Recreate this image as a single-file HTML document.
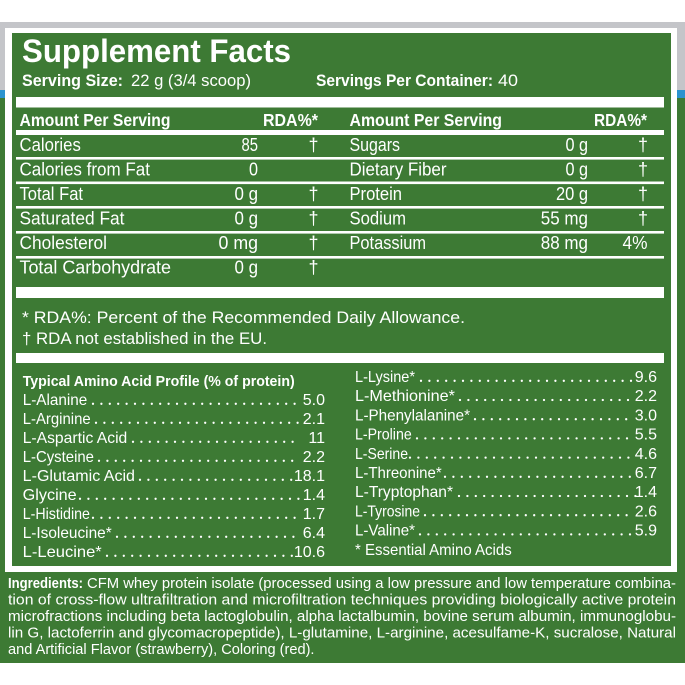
<!DOCTYPE html>
<html><head><meta charset="utf-8"><style>
html,body{margin:0;padding:0;background:#fff;}
svg{display:block;}
text{font-family:"Liberation Sans",sans-serif;fill:#fff;}
.b{font-weight:bold;}
</style></head><body>
<svg width="685" height="685" viewBox="0 0 685 685" xmlns="http://www.w3.org/2000/svg">
<rect x="0" y="0" width="685" height="685" fill="#ffffff"/>
<rect x="0" y="22" width="685" height="68" fill="#c4c5c9"/>
<rect x="0" y="90" width="685" height="8" fill="#2b93cf"/>
<rect x="0" y="98" width="685" height="565" fill="#3d7a34"/>
<rect x="5" y="28" width="672" height="544" fill="#ffffff"/>
<rect x="12" y="33" width="659" height="533" fill="#3d7a34"/>

<!-- bars -->
<rect x="16" y="97" width="648" height="10.5" fill="#fff"/>
<rect x="16" y="130" width="648" height="5" fill="#fff"/>
<rect x="16" y="157" width="648" height="2.6" fill="#fff"/>
<rect x="16" y="181.5" width="648" height="2.6" fill="#fff"/>
<rect x="16" y="206" width="648" height="2.6" fill="#fff"/>
<rect x="16" y="231" width="648" height="2.6" fill="#fff"/>
<rect x="16" y="256" width="648" height="2.6" fill="#fff"/>
<rect x="16" y="287" width="648" height="11" fill="#fff"/>
<rect x="16" y="353" width="648" height="10" fill="#fff"/>

<!-- title -->
<text x="22" y="62" class="b" font-size="32" textLength="269" lengthAdjust="spacingAndGlyphs">Supplement Facts</text>
<text x="22" y="86" class="b" font-size="17" textLength="101" lengthAdjust="spacingAndGlyphs">Serving Size:</text>
<text x="131" y="86" font-size="17" textLength="120" lengthAdjust="spacingAndGlyphs">22 g (3/4 scoop)</text>
<text x="316" y="86" class="b" font-size="17" textLength="177" lengthAdjust="spacingAndGlyphs">Servings Per Container:</text>
<text x="498" y="86" font-size="17" textLength="20" lengthAdjust="spacingAndGlyphs">40</text>

<!-- headers -->
<text x="19.5" y="126" class="b" font-size="17.5" textLength="151" lengthAdjust="spacingAndGlyphs">Amount Per Serving</text>
<text x="263" y="126" class="b" font-size="17.5" textLength="55" lengthAdjust="spacingAndGlyphs">RDA%*</text>
<text x="349.5" y="126" class="b" font-size="17.5" textLength="152.5" lengthAdjust="spacingAndGlyphs">Amount Per Serving</text>
<text x="594" y="126" class="b" font-size="17.5" textLength="53" lengthAdjust="spacingAndGlyphs">RDA%*</text>

<!-- left rows -->
<g font-size="18">
<text x="19.5" y="151" textLength="61.3" lengthAdjust="spacingAndGlyphs">Calories</text>
<text x="19.5" y="175.5" textLength="130.5" lengthAdjust="spacingAndGlyphs">Calories from Fat</text>
<text x="19.5" y="200" textLength="63.5" lengthAdjust="spacingAndGlyphs">Total Fat</text>
<text x="19.5" y="224.5" textLength="105" lengthAdjust="spacingAndGlyphs">Saturated Fat</text>
<text x="19.5" y="249" textLength="87.5" lengthAdjust="spacingAndGlyphs">Cholesterol</text>
<text x="19.5" y="273.5" textLength="151.5" lengthAdjust="spacingAndGlyphs">Total Carbohydrate</text>
</g>
<g font-size="18" text-anchor="end">
<text x="258" y="151" textLength="16.5" lengthAdjust="spacingAndGlyphs">85</text>
<text x="258" y="175.5" textLength="9" lengthAdjust="spacingAndGlyphs">0</text>
<text x="258" y="200" textLength="23.5" lengthAdjust="spacingAndGlyphs">0 g</text>
<text x="258" y="224.5" textLength="23.5" lengthAdjust="spacingAndGlyphs">0 g</text>
<text x="258" y="249" textLength="39.5" lengthAdjust="spacingAndGlyphs">0 mg</text>
<text x="258" y="273.5" textLength="23.5" lengthAdjust="spacingAndGlyphs">0 g</text>
</g>
<g font-size="18" text-anchor="middle">
<text x="313.5" y="151">†</text>
<text x="313.5" y="200">†</text>
<text x="313.5" y="224.5">†</text>
<text x="313.5" y="249">†</text>
<text x="313.5" y="273.5">†</text>
</g>

<!-- right rows -->
<g font-size="18">
<text x="349.5" y="151" textLength="50.5" lengthAdjust="spacingAndGlyphs">Sugars</text>
<text x="349.5" y="175.5" textLength="97" lengthAdjust="spacingAndGlyphs">Dietary Fiber</text>
<text x="349.5" y="200" textLength="52.5" lengthAdjust="spacingAndGlyphs">Protein</text>
<text x="349.5" y="224.5" textLength="56.5" lengthAdjust="spacingAndGlyphs">Sodium</text>
<text x="349.5" y="249" textLength="76.5" lengthAdjust="spacingAndGlyphs">Potassium</text>
</g>
<g font-size="18" text-anchor="end">
<text x="588" y="151" textLength="22.5" lengthAdjust="spacingAndGlyphs">0 g</text>
<text x="588" y="175.5" textLength="22.5" lengthAdjust="spacingAndGlyphs">0 g</text>
<text x="588" y="200" textLength="32" lengthAdjust="spacingAndGlyphs">20 g</text>
<text x="588" y="224.5" textLength="47.2" lengthAdjust="spacingAndGlyphs">55 mg</text>
<text x="588" y="249" textLength="47.2" lengthAdjust="spacingAndGlyphs">88 mg</text>
<text x="647.5" y="249" textLength="25" lengthAdjust="spacingAndGlyphs">4%</text>
</g>
<g font-size="18" text-anchor="middle">
<text x="643" y="151">†</text>
<text x="643" y="175.5">†</text>
<text x="643" y="200">†</text>
<text x="643" y="224.5">†</text>
</g>

<!-- footnotes -->
<text x="22" y="323" font-size="16.5" textLength="443" lengthAdjust="spacingAndGlyphs">* RDA%: Percent of the Recommended Daily Allowance.</text>
<text x="22" y="344" font-size="16.5" textLength="245" lengthAdjust="spacingAndGlyphs">† RDA not established in the EU.</text>

<!-- amino acids left -->
<text x="22.7" y="386" class="b" font-size="15" textLength="272" lengthAdjust="spacingAndGlyphs">Typical Amino Acid Profile (% of protein)</text>
<g font-size="16">
<text x="22.7" y="405" textLength="64.6" lengthAdjust="spacingAndGlyphs">L-Alanine</text>
<text x="22.7" y="424" textLength="68" lengthAdjust="spacingAndGlyphs">L-Arginine</text>
<text x="22.7" y="443" textLength="104.6" lengthAdjust="spacingAndGlyphs">L-Aspartic Acid</text>
<text x="22.7" y="462" textLength="71.3" lengthAdjust="spacingAndGlyphs">L-Cysteine</text>
<text x="22.7" y="481" textLength="112.3" lengthAdjust="spacingAndGlyphs">L-Glutamic Acid</text>
<text x="22.7" y="500" textLength="54" lengthAdjust="spacingAndGlyphs">Glycine</text>
<text x="22.7" y="519" textLength="67.3" lengthAdjust="spacingAndGlyphs">L-Histidine</text>
<text x="22.7" y="538" textLength="89" lengthAdjust="spacingAndGlyphs">L-Isoleucine*</text>
<text x="22.7" y="557" textLength="79" lengthAdjust="spacingAndGlyphs">L-Leucine*</text>
</g>
<g font-size="16" text-anchor="end">
<text x="325" y="405">5.0</text>
<text x="325" y="424">2.1</text>
<text x="325" y="443">11</text>
<text x="325" y="462">2.2</text>
<text x="325" y="481">18.1</text>
<text x="325" y="500">1.4</text>
<text x="325" y="519">1.7</text>
<text x="325" y="538">6.4</text>
<text x="325" y="557">10.6</text>
</g>
<g stroke="#fff" stroke-width="2.3" stroke-linecap="round" stroke-dasharray="0 8.4" fill="none">
<line x1="93" y1="403.8" x2="300.5" y2="403.8"/>
<line x1="96" y1="422.8" x2="300.5" y2="422.8"/>
<line x1="133" y1="441.8" x2="300.5" y2="441.8"/>
<line x1="99" y1="460.8" x2="300.5" y2="460.8"/>
<line x1="140" y1="479.8" x2="294" y2="479.8"/>
<line x1="80" y1="498.8" x2="300.5" y2="498.8"/>
<line x1="93" y1="517.8" x2="300.5" y2="517.8"/>
<line x1="117" y1="536.8" x2="300.5" y2="536.8"/>
<line x1="107" y1="555.8" x2="294" y2="555.8"/>
<!-- right -->
<line x1="421" y1="380.8" x2="633.5" y2="380.8"/>
<line x1="460" y1="400" x2="633.5" y2="400"/>
<line x1="475" y1="419.2" x2="633.5" y2="419.2"/>
<line x1="417" y1="438.4" x2="633.5" y2="438.4"/>
<line x1="410" y1="457.6" x2="633.5" y2="457.6"/>
<line x1="445" y1="476.8" x2="633.5" y2="476.8"/>
<line x1="459" y1="496" x2="640.5" y2="496"/>
<line x1="425" y1="515.2" x2="633.5" y2="515.2"/>
<line x1="420" y1="534.4" x2="633.5" y2="534.4"/>
</g>

<!-- amino acids right -->
<g font-size="16">
<text x="355" y="382" textLength="60" lengthAdjust="spacingAndGlyphs">L-Lysine*</text>
<text x="355" y="401.2" textLength="100" lengthAdjust="spacingAndGlyphs">L-Methionine*</text>
<text x="355" y="420.4" textLength="115" lengthAdjust="spacingAndGlyphs">L-Phenylalanine*</text>
<text x="355" y="439.6" textLength="56.7" lengthAdjust="spacingAndGlyphs">L-Proline</text>
<text x="355" y="458.8" textLength="53" lengthAdjust="spacingAndGlyphs">L-Serine</text>
<text x="355" y="478" textLength="86.7" lengthAdjust="spacingAndGlyphs">L-Threonine*</text>
<text x="355" y="497.2" textLength="98" lengthAdjust="spacingAndGlyphs">L-Tryptophan*</text>
<text x="355" y="516.4" textLength="65" lengthAdjust="spacingAndGlyphs">L-Tyrosine</text>
<text x="355" y="535.6" textLength="60" lengthAdjust="spacingAndGlyphs">L-Valine*</text>
<text x="355" y="554.8" textLength="156.7" lengthAdjust="spacingAndGlyphs">* Essential Amino Acids</text>
</g>
<g font-size="16" text-anchor="end">
<text x="657" y="382">9.6</text>
<text x="657" y="401.2">2.2</text>
<text x="657" y="420.4">3.0</text>
<text x="657" y="439.6">5.5</text>
<text x="657" y="458.8">4.6</text>
<text x="657" y="478">6.7</text>
<text x="657" y="497.2">1.4</text>
<text x="657" y="516.4">2.6</text>
<text x="657" y="535.6">5.9</text>
</g>

<!-- ingredients -->
<g font-size="14.5">
<text x="8" y="588" class="b" textLength="75" lengthAdjust="spacingAndGlyphs">Ingredients:</text>
<text x="87" y="588" textLength="589" lengthAdjust="spacingAndGlyphs">CFM whey protein isolate (processed using a low pressure and low temperature combina-</text>
<text x="8" y="604.5" textLength="668" lengthAdjust="spacingAndGlyphs">tion of cross-flow ultrafiltration and microfiltration techniques providing biologically active protein</text>
<text x="8" y="621" textLength="668" lengthAdjust="spacingAndGlyphs">microfractions including beta lactoglobulin, alpha lactalbumin, bovine serum albumin, immunoglobu-</text>
<text x="8" y="637.5" textLength="668" lengthAdjust="spacingAndGlyphs">lin G, lactoferrin and glycomacropeptide), L-glutamine, L-arginine, acesulfame-K, sucralose, Natural</text>
<text x="8" y="654" textLength="306.5" lengthAdjust="spacingAndGlyphs">and Artificial Flavor (strawberry), Coloring (red).</text>
</g>
</svg>
</body></html>
